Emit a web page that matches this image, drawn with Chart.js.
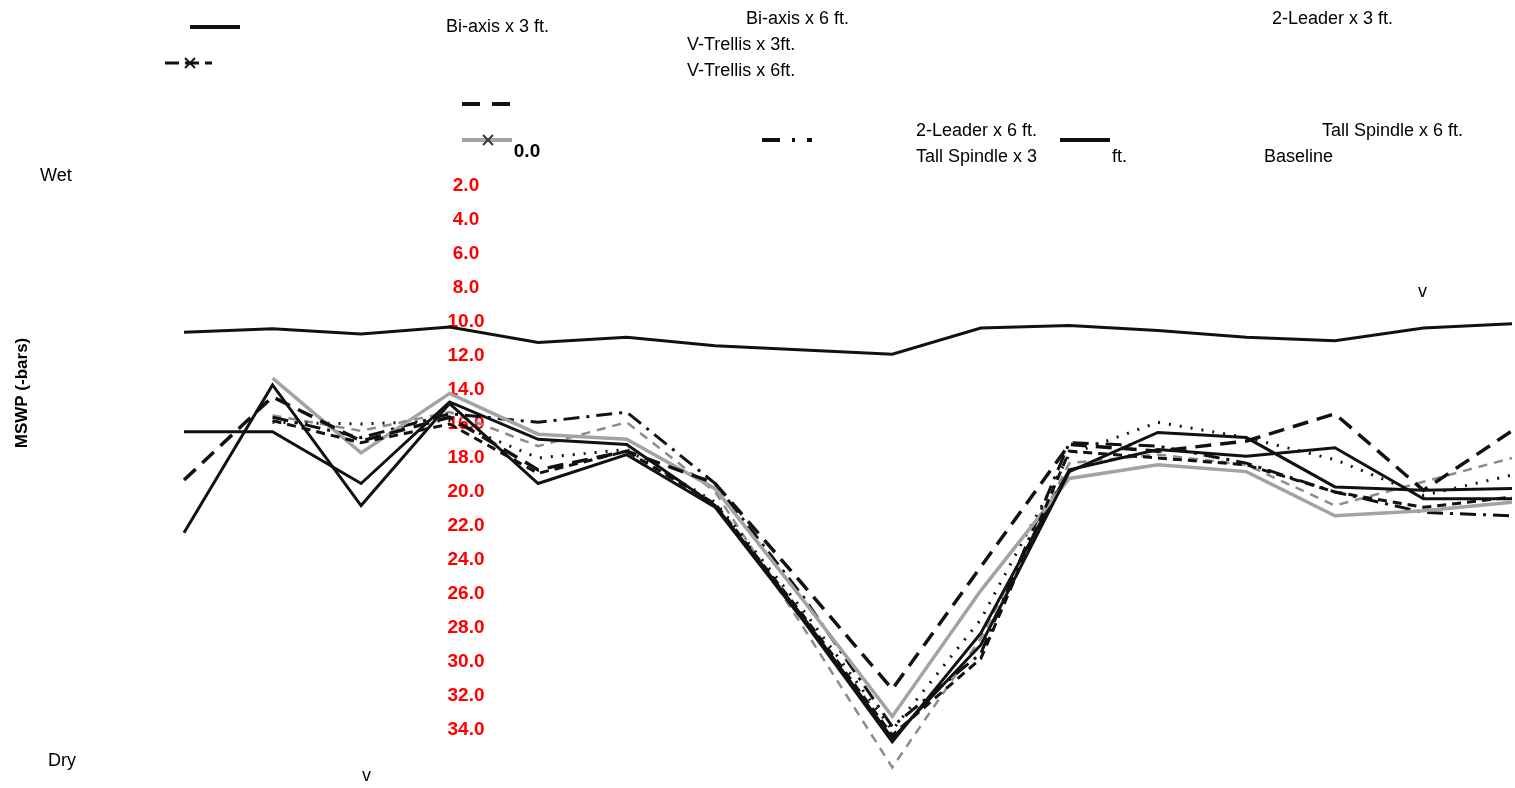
<!DOCTYPE html>
<html>
<head>
<meta charset="utf-8">
<title>MSWP by training system</title>
<script src="https://cdn.jsdelivr.net/npm/chart.js@4.4.1/dist/chart.umd.min.js"></script>
<style>
  html, body { margin: 0; padding: 0; background: #fff; }
  #wrap { position: relative; width: 1515px; height: 788px; }
</style>
</head>
<body>
<div id="wrap"><canvas id="chart"></canvas></div>
<script>
// ----------------------------
// Data (MSWP, -bars)
// ----------------------------
var dates = ['1', '2', '3', '4', '5', '6', '7', '8', '9', '10', '11', '12', '13', '14', '15', '16'];

var biaxis3   = [16.45, 16.45, 19.5, 14.7, 16.9, 17.2, 20.8, 27.4, 34.5, 29.0, 18.8, 16.5, 16.8, 19.7, 19.9, 19.8];
var biaxis6   = [null, 15.8, 17.1, 16.0, 18.9, 17.6, 20.7, 27.3, 34.3, 29.8, 17.6, 18.0, 18.4, 20.0, 20.9, 20.3];
var vtrellis3 = [19.3, 14.4, 17.0, 15.6, 18.7, 17.6, 19.5, 25.5, 31.6, 24.4, 17.2, 17.6, 17.0, 15.4, 19.9, 16.4];
var vtrellis6 = [null, 13.3, 17.7, 14.2, 16.6, 16.9, 19.8, 26.4, 33.2, 25.8, 19.2, 18.4, 18.8, 21.4, 21.1, 20.6];
var leader3   = [null, 15.6, 16.8, 15.4, 15.9, 15.3, 19.5, 26.2, 33.8, 29.5, 17.1, 17.3, 18.3, 20.0, 21.2, 21.4];
var leader6   = [22.4, 13.7, 20.8, 14.8, 19.5, 17.8, 20.9, 27.6, 34.7, 28.3, 18.7, 17.5, 17.9, 17.4, 20.4, 20.4];
var spindle3  = [null, 15.9, 16.0, 15.8, 18.0, 17.5, 20.6, 27.0, 34.0, 27.5, 17.8, 15.9, 16.8, 18.1, 20.2, 19.0];
var spindle6  = [null, 15.5, 16.4, 15.3, 17.3, 15.9, 20.0, 28.0, 36.2, 28.6, 18.3, 17.8, 18.4, 20.8, 19.4, 18.0];
var baseline  = [10.6, 10.4, 10.7, 10.3, 11.2, 10.9, 11.4, 11.65, 11.9, 10.35, 10.2, 10.5, 10.9, 11.1, 10.35, 10.1];

var tickValues = [0, 2, 4, 6, 8, 10, 12, 14, 16, 18, 20, 22, 24, 26, 28, 30, 32, 34];
var tickLabels = ['0.0', '2.0', '4.0', '6.0', '8.0', '10.0', '12.0', '14.0', '16.0', '18.0',
                  '20.0', '22.0', '24.0', '26.0', '28.0', '30.0', '32.0', '34.0'];

var BLACK = '#111111';
var GREY = '#a3a3a3';

function series(label, data, color, dash, width) {
    return {
        label: label,
        data: data,
        borderColor: color,
        backgroundColor: color,
        borderDash: dash || [],
        borderWidth: width || 3,
        pointRadius: 0,
        tension: 0,
        fill: false,
        spanGaps: false,
        clip: false
    };
}

// ----------------------------
// Overlay: scattered legend, axis labels, tick labels
// ----------------------------
var TEXT_FONT = '18px "Liberation Sans", Arial, sans-serif';

var legendTexts = [
    { t: 'Bi-axis x 3 ft.', x: 446, y: 27 },
    { t: 'Bi-axis x 6 ft.', x: 746, y: 19 },
    { t: 'V-Trellis x 3ft.', x: 687, y: 45 },
    { t: 'V-Trellis x 6ft.', x: 687, y: 71 },
    { t: '2-Leader x 3 ft.', x: 1272, y: 19 },
    { t: '2-Leader x 6 ft.', x: 916, y: 131 },
    { t: 'Tall Spindle x 3', x: 916, y: 157 },
    { t: 'ft.', x: 1112, y: 157 },
    { t: 'Tall Spindle x 6 ft.', x: 1322, y: 131 },
    { t: 'Baseline', x: 1264, y: 157 },
    { t: 'Wet', x: 40, y: 176 },
    { t: 'Dry', x: 48, y: 761 },
    { t: 'v', x: 1418, y: 292 },
    { t: 'v', x: 362, y: 776 }
];

function seg(ctx, x1, x2, y, color, dash, w) {
    ctx.save();
    ctx.strokeStyle = color;
    ctx.lineWidth = w || 4;
    ctx.setLineDash(dash || []);
    ctx.beginPath();
    ctx.moveTo(x1, y);
    ctx.lineTo(x2, y);
    ctx.stroke();
    ctx.restore();
}

function cross(ctx, cx, cy, color) {
    ctx.save();
    ctx.strokeStyle = color;
    ctx.lineWidth = 1.8;
    ctx.beginPath();
    ctx.moveTo(cx - 5, cy - 5); ctx.lineTo(cx + 5, cy + 5);
    ctx.moveTo(cx + 5, cy - 5); ctx.lineTo(cx - 5, cy + 5);
    ctx.stroke();
    ctx.restore();
}

var tickPlugin = {
    id: 'midTicks',
    beforeDatasetsDraw: function (chart) {
        var ctx = chart.ctx;
        var y = chart.scales.y;
        ctx.save();
        ctx.font = 'bold 19px "Liberation Sans", Arial, sans-serif';
        ctx.textAlign = 'center';
        ctx.textBaseline = 'middle';
        tickValues.forEach(function (v, i) {
            if (i === 0) {
                ctx.fillStyle = '#000';
                ctx.fillText(tickLabels[i], 527, y.getPixelForValue(v));
            } else {
                ctx.fillStyle = '#ff0000';
                ctx.fillText(tickLabels[i], 466, y.getPixelForValue(v));
            }
        });
        ctx.restore();
    }
};

var overlayPlugin = {
    id: 'overlay',
    afterDraw: function (chart) {
        var ctx = chart.ctx;
        ctx.save();
        ctx.font = TEXT_FONT;
        ctx.fillStyle = '#000';
        ctx.textBaseline = 'middle';
        ctx.textAlign = 'left';
        legendTexts.forEach(function (l) {
            ctx.fillText(l.t, l.x, l.y);
        });

        // y axis title
        ctx.save();
        ctx.translate(22, 393);
        ctx.rotate(-Math.PI / 2);
        ctx.font = 'bold 17px "Liberation Sans", Arial, sans-serif';
        ctx.textAlign = 'center';
        ctx.fillText('MSWP (-bars)', 0, 0);
        ctx.restore();

        // legend swatches (left where the export dropped them)
        seg(ctx, 190, 240, 27, BLACK, [], 4);
        seg(ctx, 165, 212, 63, BLACK, [14, 6], 3);
        cross(ctx, 190, 63, BLACK);
        seg(ctx, 462, 512, 104, BLACK, [18, 12], 4);
        seg(ctx, 462, 512, 140, GREY, [], 4);
        cross(ctx, 488, 140, '#333');
        seg(ctx, 762, 812, 140, BLACK, [18, 12, 3, 12], 4);
        seg(ctx, 1060, 1110, 140, BLACK, [], 4);
        ctx.restore();
    }
};

new Chart(document.getElementById('chart'), {
    type: 'line',
    data: {
        labels: dates,
        datasets: [
            series('Bi-axis x 3 ft.', biaxis3, BLACK, [], 3),
            series('Bi-axis x 6 ft.', biaxis6, BLACK, [9, 6], 3),
            series('V-Trellis x 3ft.', vtrellis3, BLACK, [16, 9], 3.5),
            series('V-Trellis x 6ft.', vtrellis6, GREY, [], 3.5),
            series('2-Leader x 3 ft.', leader3, BLACK, [16, 7, 3, 7], 3),
            series('2-Leader x 6 ft.', leader6, BLACK, [], 3),
            series('Tall Spindle x 3 ft.', spindle3, BLACK, [2, 9], 3),
            series('Tall Spindle x 6 ft.', spindle6, '#8c8c8c', [9, 7], 2.5),
            series('Baseline', baseline, BLACK, [], 3)
        ]
    },
    options: {
        responsive: true,
        maintainAspectRatio: false,
        animation: false,
        layout: { padding: { left: 184, right: 3, top: 152, bottom: 58 } },
        plugins: {
            legend: { display: false },
            tooltip: { enabled: false },
            title: { display: false }
        },
        scales: {
            x: { type: 'category', display: false, offset: false },
            y: { display: false, reverse: true, min: 0, max: 34 }
        }
    },
    plugins: [tickPlugin, overlayPlugin]
});
</script>
</body>
</html>
